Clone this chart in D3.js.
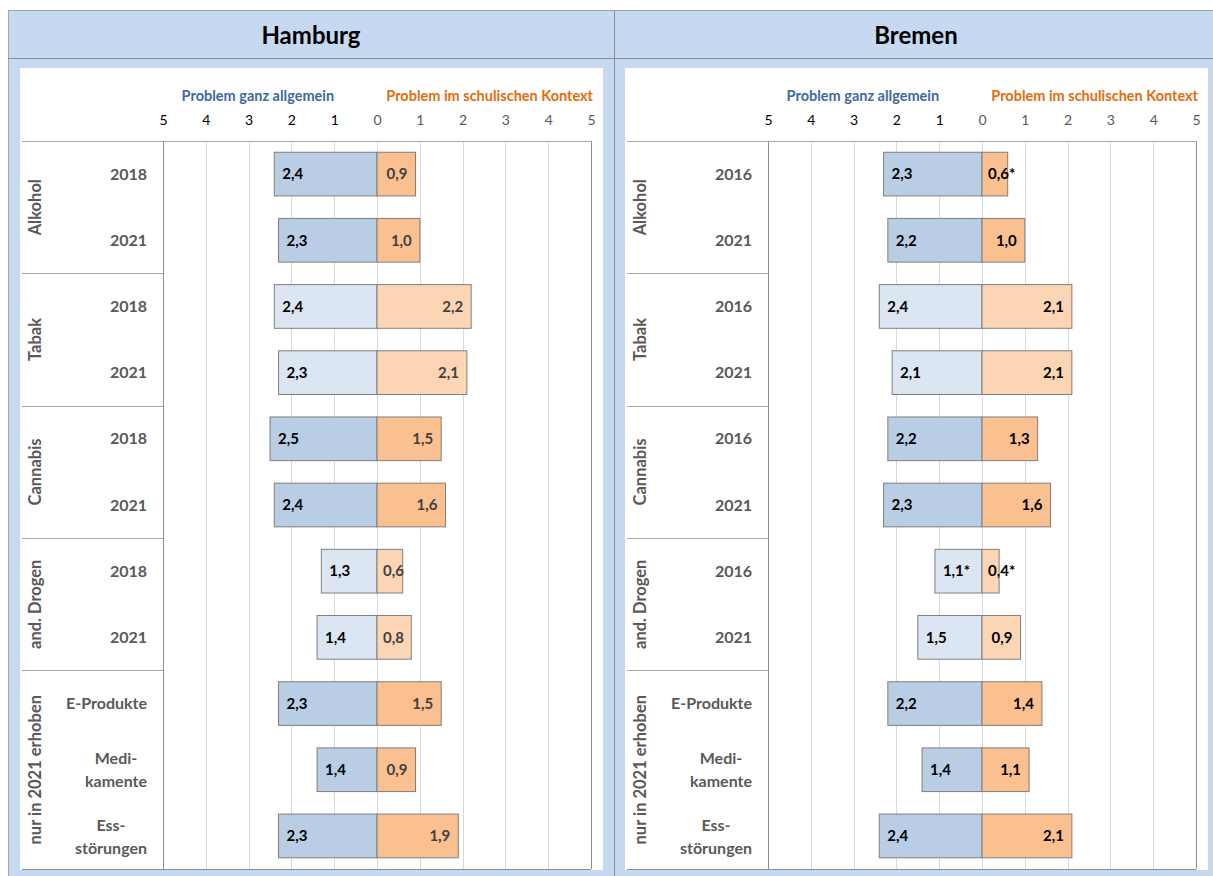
<!DOCTYPE html>
<html>
<head>
<meta charset="utf-8">
<script src="https://cdn.jsdelivr.net/npm/d3@7"></script>
<style>
  body { margin: 0; background: #fff; }
  text { font-family: Lato, "Open Sans", sans-serif; }
</style>
</head>
<body>
<script>
// Daten
const groups = ["Alkohol", "Tabak", "Cannabis", "and. Drogen", "nur in 2021 erhoben"];
const groupLight = [false, true, false, true, false];
const rowGroup = [0, 0, 1, 1, 2, 2, 3, 3, 4, 4, 4];

const hamburgRows = ["2018", "2021", "2018", "2021", "2018", "2021", "2018", "2021", "E-Produkte", "Medi-|kamente", "Ess-|störungen"];
const hamburgGeneral = [2.4, 2.3, 2.4, 2.3, 2.5, 2.4, 1.3, 1.4, 2.3, 1.4, 2.3];
const hamburgSchool = [0.9, 1.0, 2.2, 2.1, 1.5, 1.6, 0.6, 0.8, 1.5, 0.9, 1.9];
const hamburgGeneralStar = [false, false, false, false, false, false, false, false, false, false, false];
const hamburgSchoolStar = [false, false, false, false, false, false, false, false, false, false, false];

const bremenRows = ["2016", "2021", "2016", "2021", "2016", "2021", "2016", "2021", "E-Produkte", "Medi-|kamente", "Ess-|störungen"];
const bremenGeneral = [2.3, 2.2, 2.4, 2.1, 2.2, 2.3, 1.1, 1.5, 2.2, 1.4, 2.4];
const bremenSchool = [0.6, 1.0, 2.1, 2.1, 1.3, 1.6, 0.4, 0.9, 1.4, 1.1, 2.1];
const bremenGeneralStar = [false, false, false, false, false, false, true, false, false, false, false];
const bremenSchoolStar = [true, false, false, false, false, false, true, false, false, false, false];

const ticks = [-5, -4, -3, -2, -1, 0, 1, 2, 3, 4, 5];

const W = 1213, H = 876;
const fmt = (v) => d3.format(".1f")(v).replace(".", ",");

const svg = d3.select("body").append("svg").attr("width", W).attr("height", H);

// Hintergrund
svg.append("rect").attr("x", 8).attr("y", 10).attr("width", W - 8).attr("height", H - 10)
  .attr("fill", "#c6d9f1");
svg.append("line").attr("x1", 8.5).attr("x2", 8.5).attr("y1", 10).attr("y2", H).attr("stroke", "#a6a6a6");
svg.append("line").attr("x1", 8).attr("x2", W).attr("y1", 10.5).attr("y2", 10.5).attr("stroke", "#a6a6a6");
svg.append("line").attr("x1", 8).attr("x2", W).attr("y1", 58.5).attr("y2", 58.5).attr("stroke", "#8c8c8c");
svg.append("line").attr("x1", 614.5).attr("x2", 614.5).attr("y1", 10).attr("y2", H).attr("stroke", "#8c8c8c");

function panel(ox, title, rows, general, school, gStar, sStar, schoolLabelColor) {
  const g = svg.append("g").attr("transform", "translate(" + ox + ",0)");

  g.append("text").text(title)
    .attr("x", 311).attr("y", 44)
    .attr("text-anchor", "middle")
    .attr("font-size", "24px").attr("font-weight", "bold").attr("fill", "#000");

  g.append("rect").attr("x", 20).attr("y", 68).attr("width", 583).attr("height", 802).attr("fill", "#fff");

  const x = d3.scaleLinear().domain([-5, 5]).range([163, 591]);
  const y = d3.scaleBand().domain(d3.range(rows.length)).range([141, 869]).paddingInner(0.34).paddingOuter(0.17);
  const step = y.step();
  const rowTop = (i) => 141 + i * step;

  // Gitterlinien
  g.selectAll(".grid").data(ticks.slice(1, -1)).enter().append("line")
    .attr("x1", (d) => Math.round(x(d)) + 0.5).attr("x2", (d) => Math.round(x(d)) + 0.5)
    .attr("y1", 141).attr("y2", 869)
    .attr("stroke", "#d9d9d9");

  // Achse oben
  const axis = g.append("g").attr("transform", "translate(0,128)")
    .call(d3.axisTop(x).tickValues(ticks).tickSize(0).tickFormat((d) => Math.abs(d)));
  axis.select(".domain").remove();
  axis.selectAll("text")
    .attr("font-family", "Lato, 'Open Sans', sans-serif")
    .attr("font-size", "14px")
    .attr("fill", (d) => (d < 0 ? "#000" : "#595959"));

  // Legende
  g.append("text").text("Problem ganz allgemein")
    .attr("x", x(-1)).attr("y", 101).attr("text-anchor", "end")
    .attr("font-size", "14.5px").attr("font-weight", "bold").attr("fill", "#3d69a3");
  g.append("text").text("Problem im schulischen Kontext")
    .attr("x", x(5) + 2).attr("y", 101).attr("text-anchor", "end")
    .attr("font-size", "14.5px").attr("font-weight", "bold").attr("fill", "#e46c0a");

  // Gruppentrenner
  const bounds = [];
  rowGroup.forEach((gi, i) => { if (i > 0 && rowGroup[i - 1] !== gi) bounds.push(i); });
  g.selectAll(".sep").data(bounds).enter().append("line")
    .attr("x1", 22).attr("x2", 163)
    .attr("y1", (d) => Math.round(rowTop(d)) + 0.5).attr("y2", (d) => Math.round(rowTop(d)) + 0.5)
    .attr("stroke", "#a6a6a6");
  g.append("line").attr("x1", 22).attr("x2", 591).attr("y1", 141.5).attr("y2", 141.5).attr("stroke", "#a6a6a6");
  g.append("line").attr("x1", 22).attr("x2", 591).attr("y1", 869.5).attr("y2", 869.5).attr("stroke", "#8c8c8c");
  g.append("line").attr("x1", 163.5).attr("x2", 163.5).attr("y1", 141).attr("y2", 869).attr("stroke", "#8c8c8c");
  g.append("line").attr("x1", 591.5).attr("x2", 591.5).attr("y1", 141).attr("y2", 869).attr("stroke", "#8c8c8c");

  // Gruppenbeschriftung
  groups.forEach((name, gi) => {
    const idx = rowGroup.map((d, i) => (d === gi ? i : -1)).filter((i) => i >= 0);
    const cy = (rowTop(idx[0]) + rowTop(idx[idx.length - 1] + 1)) / 2;
    g.append("text").text(name)
      .attr("transform", "translate(41," + cy + ") rotate(-90)")
      .attr("text-anchor", "middle")
      .attr("font-size", "16.5px").attr("font-weight", "bold").attr("fill", "#595959");
  });

  // Zeilenbeschriftung
  rows.forEach((label, i) => {
    const cy = y(i) + y.bandwidth() / 2;
    const lines = label.split("|");
    if (lines.length === 1) {
      g.append("text").text(label)
        .attr("x", 147).attr("y", cy).attr("dy", "0.35em").attr("text-anchor", "end")
        .attr("font-size", "16px").attr("font-weight", "bold").attr("fill", "#595959");
    } else {
      const t = g.append("g");
      const texts = lines.map((l, k) =>
        t.append("text").text(l)
          .attr("y", cy + (k === 0 ? -11 : 12)).attr("dy", "0.35em")
          .attr("text-anchor", "middle")
          .attr("font-size", "16px").attr("font-weight", "bold").attr("fill", "#595959"));
      const maxW = d3.max(texts, (tx) => tx.node().getComputedTextLength());
      texts.forEach((tx) => tx.attr("x", 147 - maxW / 2));
    }
  });

  const idx = d3.range(rows.length);

  // Balken links
  g.selectAll(".gen").data(idx).enter().append("rect")
    .attr("x", (i) => x(-general[i]))
    .attr("y", (i) => y(i))
    .attr("width", (i) => x(0) - x(-general[i]))
    .attr("height", y.bandwidth())
    .attr("fill", (i) => (groupLight[rowGroup[i]] ? "#dce6f2" : "#b9cde5"))
    .attr("stroke", "#7f7f7f");

  // Balken rechts
  g.selectAll(".sch").data(idx).enter().append("rect")
    .attr("x", x(0))
    .attr("y", (i) => y(i))
    .attr("width", (i) => x(school[i]) - x(0))
    .attr("height", y.bandwidth())
    .attr("fill", (i) => (groupLight[rowGroup[i]] ? "#fcd5b5" : "#fac090"))
    .attr("stroke", "#7f7f7f");

  // Werte
  g.selectAll(".genl").data(idx).enter().append("text")
    .text((i) => fmt(general[i]) + (gStar[i] ? "*" : ""))
    .attr("x", (i) => x(-general[i]) + 8)
    .attr("y", (i) => y(i) + y.bandwidth() / 2).attr("dy", "0.35em")
    .attr("font-size", "15px").attr("font-weight", "bold").attr("fill", "#000");

  g.selectAll(".schl").data(idx).enter().append("text")
    .text((i) => fmt(school[i]) + (sStar[i] ? "*" : ""))
    .attr("y", (i) => y(i) + y.bandwidth() / 2).attr("dy", "0.35em")
    .attr("font-size", "15px").attr("font-weight", "bold").attr("fill", schoolLabelColor)
    .attr("x", function (i) {
      const w = this.getComputedTextLength();
      return Math.max(x(0) + 6, x(school[i]) - 8 - w);
    });
}

panel(0, "Hamburg", hamburgRows, hamburgGeneral, hamburgSchool, hamburgGeneralStar, hamburgSchoolStar, "#404040");
panel(605, "Bremen", bremenRows, bremenGeneral, bremenSchool, bremenGeneralStar, bremenSchoolStar, "#000");
</script>
</body>
</html>
